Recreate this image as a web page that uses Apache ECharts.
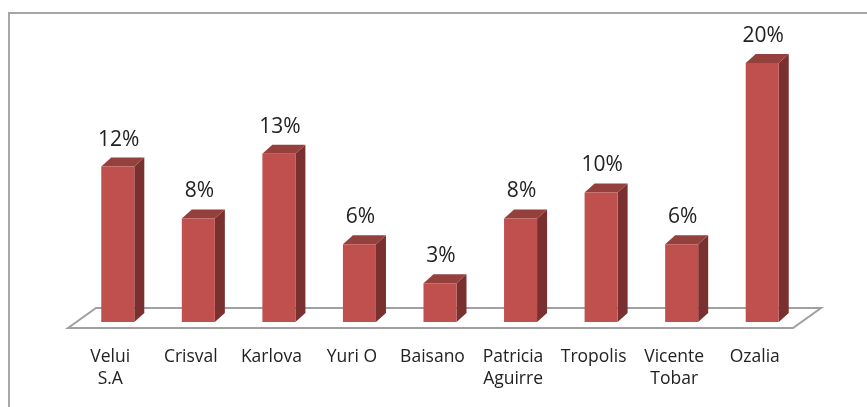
<!DOCTYPE html>
<html>
<head>
<meta charset="utf-8">
<script src="https://cdn.jsdelivr.net/npm/echarts@6/dist/echarts.min.js"></script>
<style>
html, body { margin: 0; padding: 0; background: #fff; }
#chart { width: 867px; height: 407px; }
</style>
</head>
<body>
<div id="chart"></div>
<script>
const categories = ['Velui\nS.A', 'Crisval', 'Karlova', 'Yuri O', 'Baisano', 'Patricia\nAguirre', 'Tropolis', 'Vicente\nTobar', 'Ozalia'];
const values = [12, 8, 13, 6, 3, 8, 10, 6, 20];

const frontColor = '#C0504D';
const topColor = '#94403D';
const sideColor = '#7A302E';

// 3d look: bars sit a bit back from the front edge of the floor
const barShiftX = 7.5, barShiftY = -6;
const depthX = 10, depthY = -9;
const floorDX = 28, floorDY = -20;

const myChart = echarts.init(document.getElementById('chart'));

const renderBar = (params, api) => {
    const v = api.value(1);
    const base = api.coord([api.value(0), 0]);
    const top = api.coord([api.value(0), v]);
    const w = api.size([1, 0])[0] * 0.41;
    const x0 = base[0] - w / 2 + barShiftX;
    const x1 = x0 + w;
    const yb = base[1] + barShiftY;
    const yt = top[1] + barShiftY;
    return {
        type: 'group',
        children: [
            {
                type: 'polygon',
                shape: { points: [[x1, yb], [x1 + depthX, yb + depthY], [x1 + depthX, yt + depthY], [x1, yt]] },
                style: { fill: sideColor }
            },
            {
                type: 'polygon',
                shape: { points: [[x0, yt], [x0 + depthX, yt + depthY], [x1 + depthX, yt + depthY], [x1, yt]] },
                style: { fill: topColor }
            },
            {
                type: 'rect',
                shape: { x: x0, y: yt, width: w, height: yb - yt },
                style: { fill: frontColor }
            },
            {
                type: 'text',
                style: {
                    text: v + '%',
                    x: (x0 + x1) / 2 + 1,
                    y: yt - 27,
                    align: 'center',
                    verticalAlign: 'middle',
                    fill: '#222',
                    font: '21px "Open Sans"'
                }
            }
        ]
    };
};

const renderFloor = (params, api) => {
    const cs = params.coordSys;
    const l = cs.x - 2, r = cs.x + cs.width - 2, y = cs.y + cs.height;
    return {
        type: 'polygon',
        shape: { points: [[l, y], [l + floorDX, y + floorDY], [r + floorDX, y + floorDY], [r, y]] },
        style: { fill: '#fff', stroke: '#a0a0a0', lineWidth: 2 }
    };
};

const option = {
    backgroundColor: '#fff',
    animation: false,
    graphic: [
        {
            type: 'rect',
            shape: { x: 9, y: 13, width: 900, height: 500 },
            style: { fill: 'none', stroke: '#a6a6a6', lineWidth: 2 },
            z: -10
        }
    ],
    grid: {
        left: 70,
        right: 72,
        top: 69,
        bottom: 79
    },
    xAxis: {
        type: 'category',
        data: categories,
        axisLine: { show: false },
        axisTick: { show: false },
        axisLabel: {
            color: '#222',
            fontFamily: 'Open Sans',
            fontSize: 17.5,
            lineHeight: 22,
            margin: 18,
            interval: 0
        }
    },
    yAxis: {
        type: 'value',
        min: 0,
        max: 20,
        show: false,
        splitLine: { show: false }
    },
    series: [
        {
            type: 'custom',
            renderItem: renderFloor,
            data: [[0, 0]],
            z: 1,
            silent: true
        },
        {
            type: 'custom',
            renderItem: renderBar,
            data: values.map((v, i) => [i, v]),
            z: 2
        }
    ]
};

myChart.setOption(option);
</script>
</body>
</html>
